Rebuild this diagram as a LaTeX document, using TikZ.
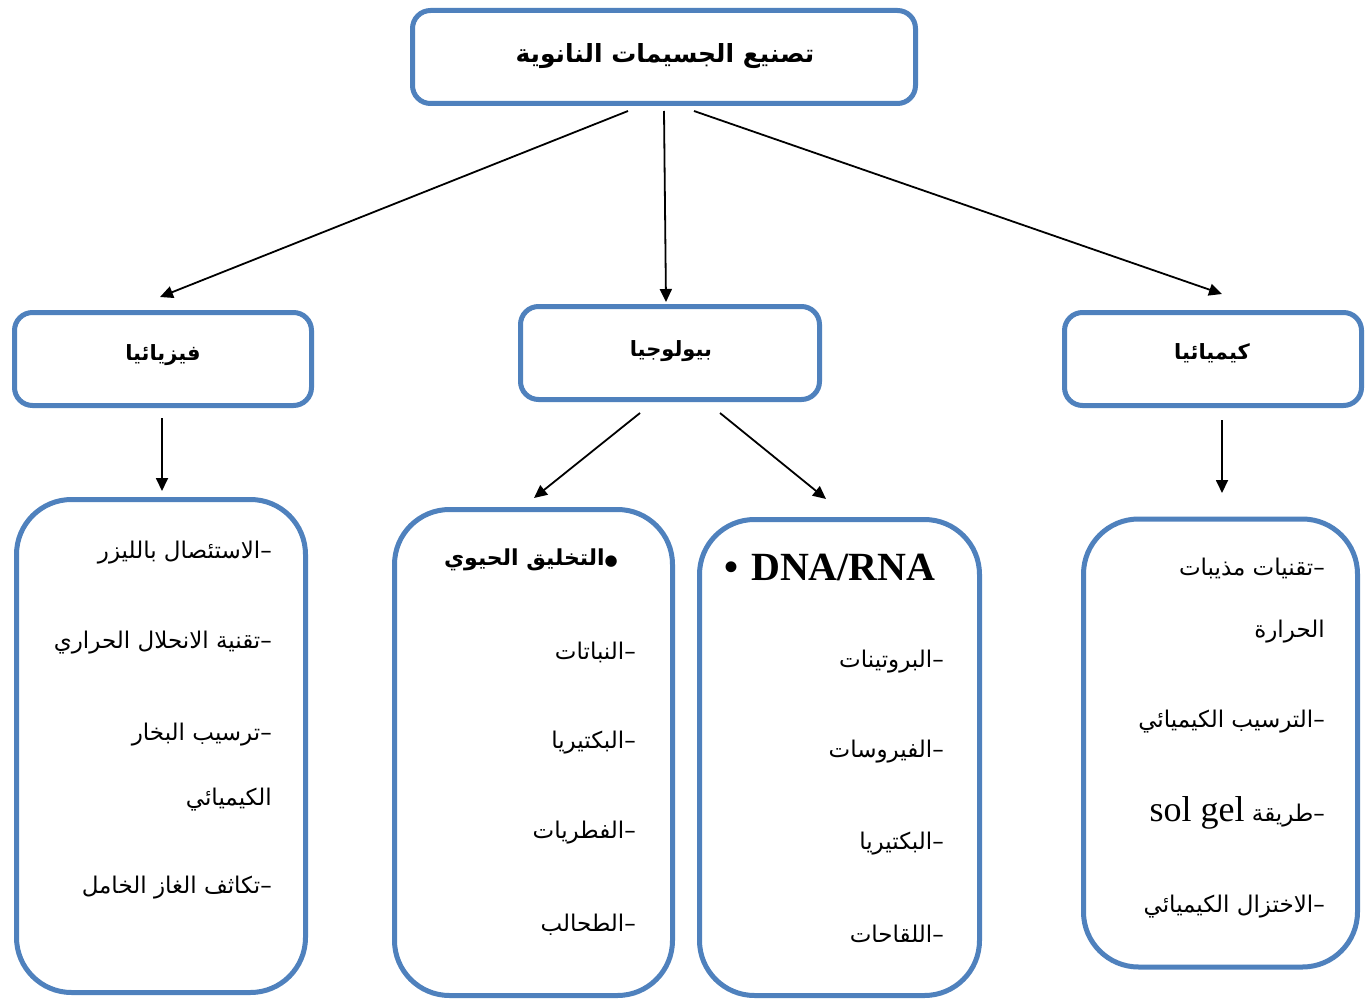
\documentclass[tikz,border=0pt]{standalone}
\usepackage{fontspec}
\setmainfont{Liberation Serif}
\newfontfamily\arabicfont[Script=Arabic]{DejaVu Sans}
\newfontfamily\latinfont{Liberation Serif}
\TeXXeTstate=1
\usetikzlibrary{arrows.meta}
\definecolor{boxblue}{RGB}{79,129,189}
\tikzset{
  titlebox/.style={draw=boxblue, line width=5pt, rounded corners=18pt, fill=white},
  listbox/.style={draw=boxblue, line width=5pt, rounded corners=55pt, inner sep=0pt},
  conn/.style={line width=1.8pt, -{Triangle[length=13pt,width=12pt]}},
  item/.style={font=\arabicfont\fontsize{23}{27}\selectfont, anchor=east, inner sep=0pt},
  head/.style={font=\arabicfont\bfseries\fontsize{21}{25}\selectfont, inner sep=0pt},
}
\begin{document}
\begin{tikzpicture}[x=1pt,y=-1pt]
\useasboundingbox (0,0) rectangle (1368,1003);
\fill[white] (0,0) rectangle (1368,1003);

% title boxes
\node[titlebox, minimum width=503pt, minimum height=93pt] (top) at (664,57) {};
\node[head, font=\arabicfont\bfseries\fontsize{25}{30}\selectfont] (toptxt) at (665,56) {\beginR تصنيع الجسيمات النانوية\endR};
\node[titlebox, minimum width=297pt, minimum height=93pt] (phys) at (163,359) {};
\node[head] (phystxt) at (163,355) {\beginR فيزيائيا\endR};
\node[titlebox, minimum width=299pt, minimum height=93pt] (bio) at (670,353) {};
\node[head] (biotxt) at (671,351) {\beginR بيولوجيا\endR};
\node[titlebox, minimum width=297pt, minimum height=93pt] (chem) at (1213,359) {};
\node[head] (chemtxt) at (1212,353) {\beginR كيميائيا\endR};

% list boxes
\node[listbox, minimum width=289pt, minimum height=493pt] (physlist) at (161,746) {};
\node[listbox, minimum width=278pt, minimum height=486pt] (biolist) at (533.5,752.5) {};
\node[listbox, minimum width=280pt, minimum height=476pt] (dnalist) at (839.5,757.5) {};
\node[listbox, minimum width=274pt, minimum height=448pt] (chemlist) at (1220.5,743) {};

% physics items
\node[item] (p1) at (272,553) {\beginR–الاستئصال بالليزر\endR};
\node[item] (p2) at (272,643) {\beginR–تقنية الانحلال الحراري\endR};
\node[item] (p3) at (272,735) {\beginR–ترسيب البخار\endR};
\node[item] (p4) at (272,800) {\beginR الكيميائي\endR};
\node[item] (p5) at (272,888) {\beginR–تكاثف الغاز الخامل\endR};

% biosynthesis items
\node[head, anchor=east, font=\arabicfont\bfseries\fontsize{22}{26}\selectfont] (b0) at (618,560) {\beginR{\fontsize{15}{15}\selectfont●}التخليق الحيوي\endR};
\node[item] (b1) at (636,652) {\beginR–النباتات\endR};
\node[item] (b2) at (636,743) {\beginR–البكتيريا\endR};
\node[item] (b3) at (636,833) {\beginR–الفطريات\endR};
\node[item] (b4) at (636,925) {\beginR–الطحالب\endR};

% DNA/RNA items
\node[anchor=west, inner sep=0pt, font=\latinfont\bfseries\fontsize{40}{44}\selectfont] (d0) at (724,567) {•\hspace{13pt}DNA/RNA};
\node[item] (d1) at (944,662) {\beginR–البروتينات\endR};
\node[item] (d2) at (944,752) {\beginR–الفيروسات\endR};
\node[item] (d3) at (944,844) {\beginR–البكتيريا\endR};
\node[item] (d4) at (944,934) {\beginR–اللقاحات\endR};

% chemistry items
\node[item] (c1) at (1325,568) {\beginR–تقنيات مذيبات\endR};
\node[item] (c2) at (1325,632) {\beginR الحرارة\endR};
\node[item] (c3) at (1325,722) {\beginR–الترسيب الكيميائي\endR};
\node[item] (c4) at (1325,813) {\beginR–طريقة \beginL{\latinfont\fontsize{36}{40}\selectfont sol gel}\endL\endR};
\node[item] (c5) at (1325,907) {\beginR–الاختزال الكيميائي\endR};

% connector end points
\coordinate (s1) at (628,111); \coordinate (e1) at (160,297);
\coordinate (s2) at (664,111); \coordinate (e2) at (666,302);
\coordinate (s3) at (694,111); \coordinate (e3) at (1222,294);
\coordinate (s4) at (162,418); \coordinate (e4) at (162,491);
\coordinate (s5) at (640,413); \coordinate (e5) at (534,498);
\coordinate (s6) at (720,413); \coordinate (e6) at (826,499);
\coordinate (s7) at (1222,420); \coordinate (e7) at (1222,493);

\draw[conn] (s1) -- (e1);
\draw[conn] (s2) -- (e2);
\draw[conn] (s3) -- (e3);
\draw[conn] (s4) -- (e4);
\draw[conn] (s5) -- (e5);
\draw[conn] (s6) -- (e6);
\draw[conn] (s7) -- (e7);
\end{tikzpicture}
\end{document}
